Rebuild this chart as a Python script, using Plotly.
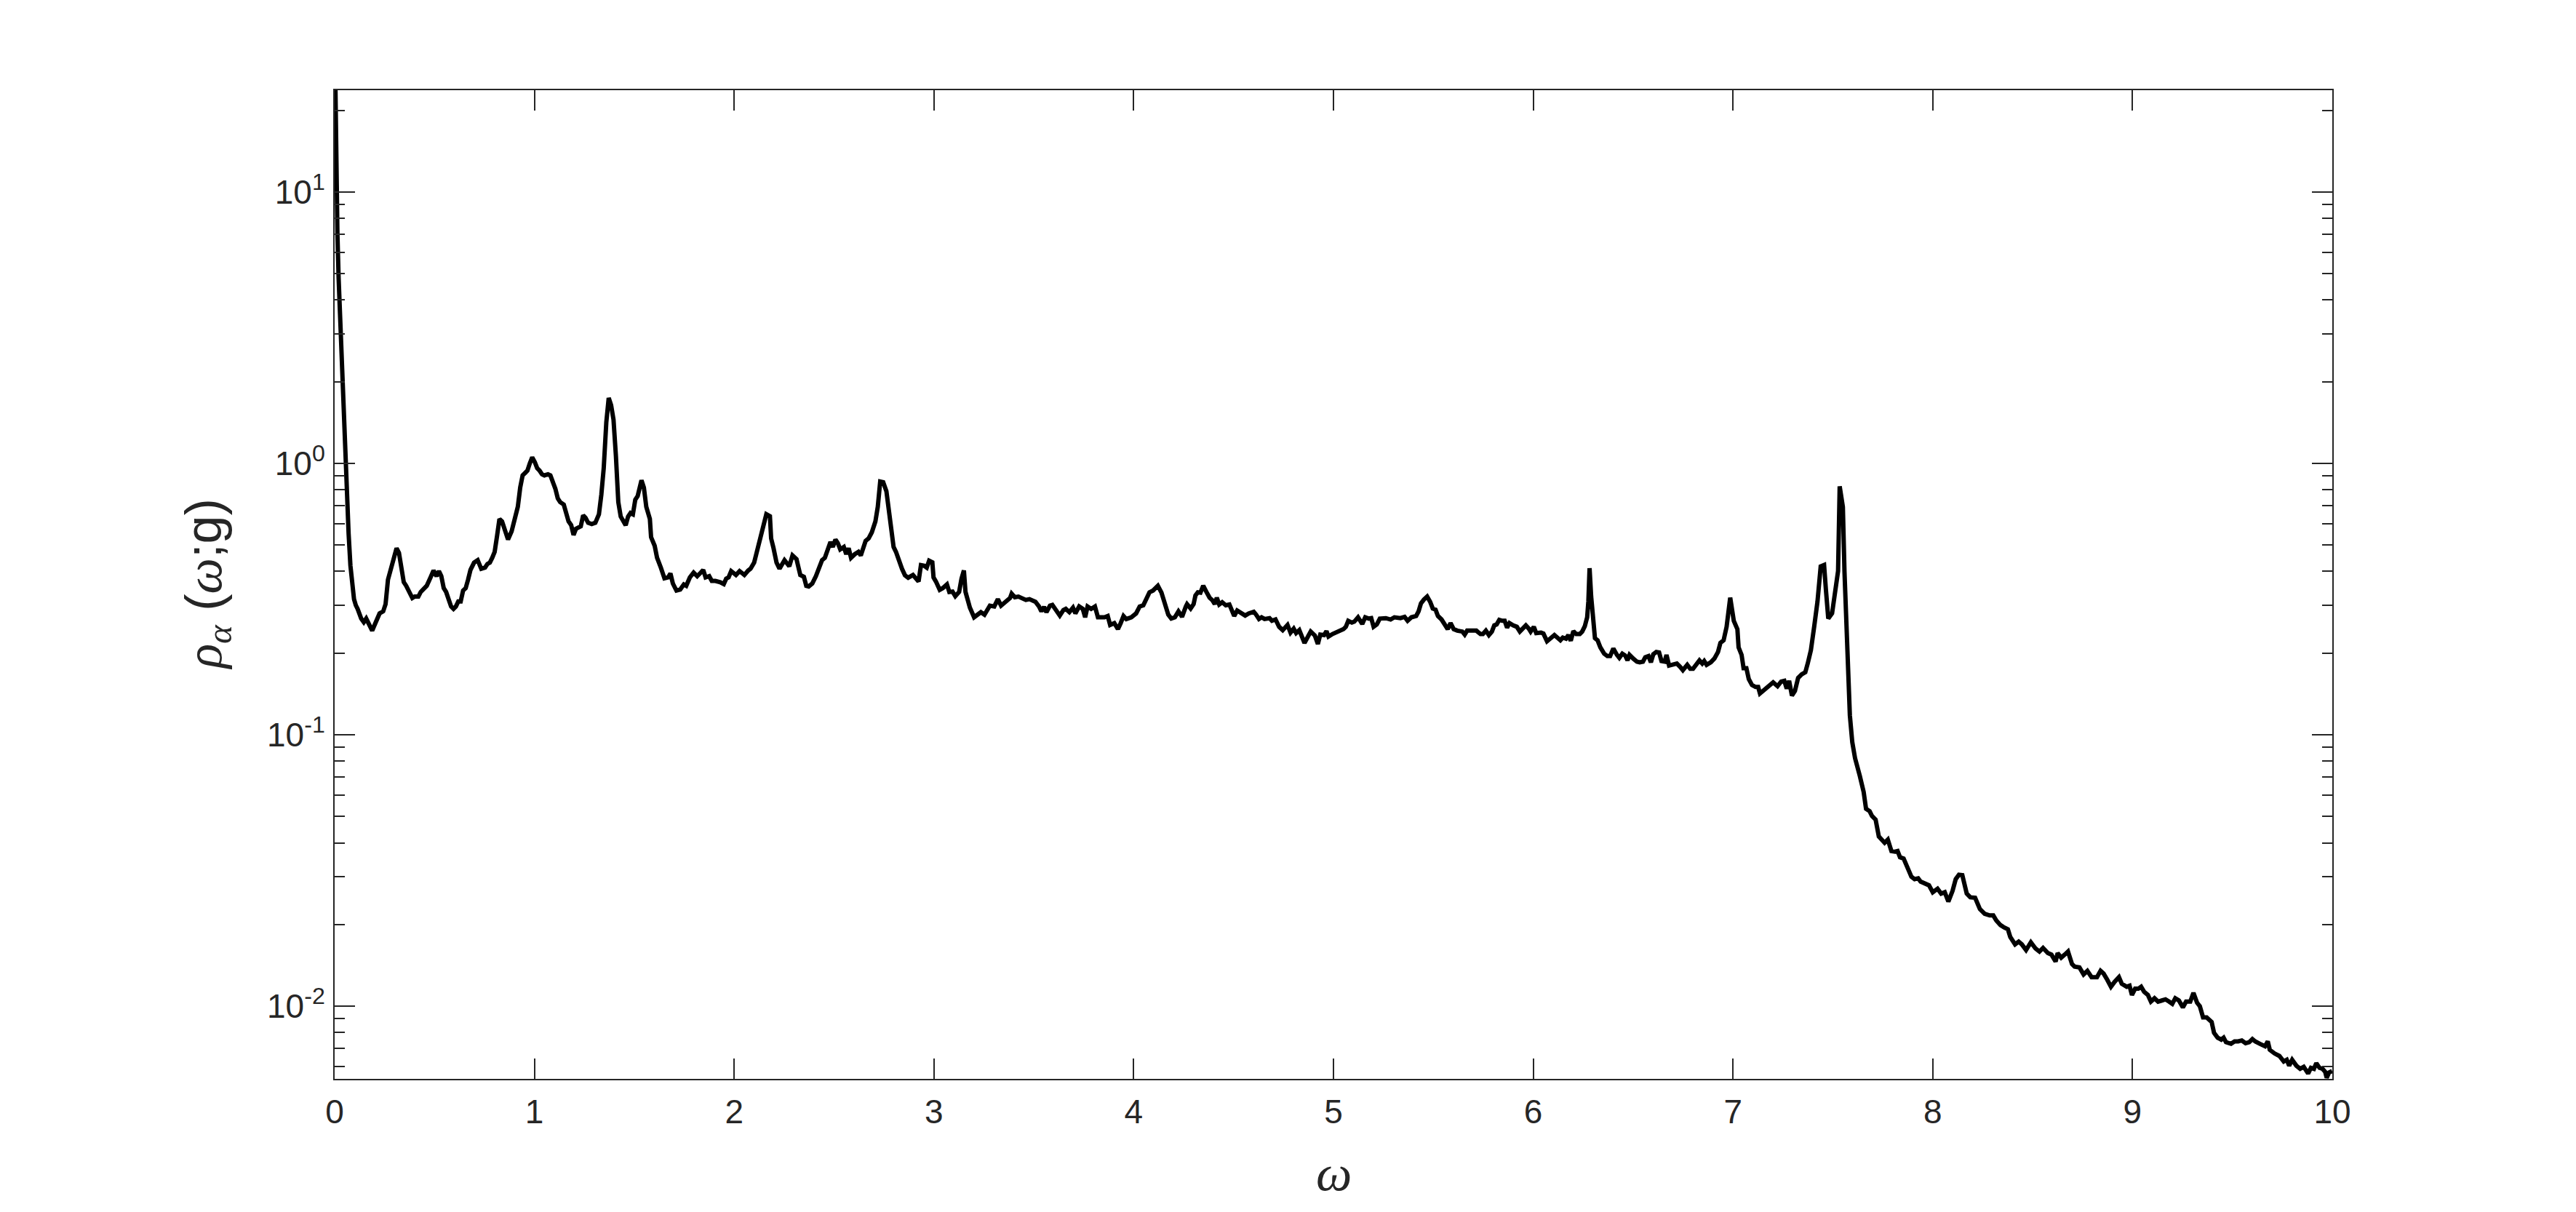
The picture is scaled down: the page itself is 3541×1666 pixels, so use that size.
import math
import plotly.graph_objects as go

# ---------------- data ----------------
omega_0 = [0.000, 0.004, 0.008, 0.014, 0.020, 0.030, 0.038, 0.044, 0.049, 0.055,
           0.061, 0.070, 0.079, 0.088, 0.097, 0.106, 0.115, 0.133, 0.146, 0.158,
           0.170, 0.188]
rho_0 = [40.0, 22.0, 12.0, 7.0, 4.8, 3.0, 2.4, 1.9, 1.42, 1.0,
         0.77, 0.55, 0.42, 0.36, 0.316, 0.30, 0.291, 0.268, 0.260, 0.268,
         0.258, 0.242]

omega_1 = [0.206, 0.225, 0.243, 0.255, 0.267, 0.285, 0.297, 0.310, 0.322, 0.334,
           0.346, 0.358, 0.376, 0.389, 0.401, 0.419, 0.431, 0.449, 0.461, 0.480,
           0.495, 0.510, 0.522, 0.534, 0.546, 0.558, 0.571, 0.583, 0.595, 0.607,
           0.619, 0.631, 0.643, 0.656, 0.668, 0.680, 0.698, 0.716, 0.734, 0.753,
           0.765, 0.777, 0.789, 0.801, 0.813, 0.825, 0.838, 0.850, 0.868, 0.886,
           0.904, 0.917, 0.929, 0.941, 0.953, 0.965, 0.977, 0.989, 1.002, 1.014,
           1.026, 1.038, 1.050, 1.068, 1.080, 1.093, 1.105, 1.117, 1.129, 1.147,
           1.159, 1.171, 1.184, 1.196, 1.208, 1.220, 1.232, 1.244, 1.256, 1.269,
           1.287, 1.305, 1.323, 1.335, 1.347, 1.360, 1.372, 1.384, 1.396, 1.408,
           1.420, 1.432, 1.445, 1.457, 1.469, 1.481, 1.493, 1.505, 1.517, 1.536,
           1.548, 1.560, 1.578, 1.584, 1.602, 1.614, 1.633, 1.651, 1.669, 1.681,
           1.693, 1.711, 1.730, 1.748, 1.760, 1.778, 1.797, 1.815, 1.833, 1.845,
           1.857, 1.875, 1.888, 1.906, 1.930]
rho_1 = [0.260, 0.280, 0.285, 0.303, 0.373, 0.422, 0.458, 0.487, 0.468, 0.413,
         0.365, 0.354, 0.330, 0.319, 0.323, 0.323, 0.336, 0.347, 0.354, 0.380,
         0.403, 0.384, 0.401, 0.384, 0.347, 0.336, 0.319, 0.297, 0.291, 0.297,
         0.310, 0.310, 0.340, 0.347, 0.373, 0.405, 0.431, 0.440, 0.409, 0.413,
         0.426, 0.431, 0.449, 0.472, 0.540, 0.624, 0.611, 0.580, 0.524, 0.562,
         0.624, 0.692, 0.815, 0.903, 0.921, 0.940, 1.000, 1.053, 1.011, 0.960,
         0.940, 0.912, 0.903, 0.912, 0.903, 0.857, 0.806, 0.743, 0.720, 0.705,
         0.663, 0.611, 0.592, 0.545, 0.574, 0.580, 0.586, 0.643, 0.630, 0.604,
         0.598, 0.604, 0.649, 0.766, 0.960, 1.420, 1.742, 1.637, 1.449, 1.064,
         0.720, 0.637, 0.617, 0.592, 0.637, 0.656, 0.649, 0.735, 0.758, 0.866,
         0.815, 0.692, 0.624, 0.535, 0.497, 0.449, 0.413, 0.377, 0.380, 0.393,
         0.361, 0.340, 0.343, 0.358, 0.354, 0.380, 0.396, 0.384, 0.396, 0.405,
         0.380, 0.384, 0.369, 0.369, 0.365]

omega_2 = [1.948, 1.960, 1.972, 1.985, 2.009, 2.027, 2.051, 2.070, 2.082, 2.100,
           2.112, 2.130, 2.142, 2.161, 2.179, 2.185, 2.197, 2.212, 2.227, 2.252,
           2.276, 2.292, 2.312, 2.331, 2.349, 2.361, 2.373, 2.391, 2.409, 2.428,
           2.440, 2.454, 2.470, 2.482, 2.494, 2.507, 2.519, 2.531, 2.549, 2.561,
           2.573, 2.585, 2.604, 2.622, 2.634, 2.646, 2.658, 2.673, 2.689, 2.707,
           2.719, 2.731, 2.746, 2.762, 2.774, 2.786, 2.798, 2.810, 2.826, 2.840,
           2.855, 2.871, 2.895, 2.907, 2.923, 2.935, 2.950, 2.964, 2.976, 2.992,
           2.998, 3.010, 3.029, 3.044, 3.065, 3.077, 3.093, 3.107, 3.126, 3.138,
           3.150, 3.158, 3.168, 3.180, 3.201, 3.217, 3.235, 3.253, 3.265, 3.280,
           3.302, 3.320, 3.336, 3.350, 3.368, 3.381, 3.389, 3.405, 3.423, 3.441,
           3.460, 3.478, 3.496, 3.508, 3.526, 3.538, 3.551, 3.563, 3.581, 3.593,
           3.611, 3.630, 3.648, 3.660, 3.678, 3.696, 3.708, 3.727, 3.745, 3.757,
           3.769, 3.787, 3.806, 3.821]
rho_2 = [0.359, 0.376, 0.380, 0.401, 0.388, 0.401, 0.388, 0.403, 0.409, 0.431,
         0.468, 0.529, 0.592, 0.650, 0.639, 0.529, 0.487, 0.431, 0.409, 0.440,
         0.418, 0.458, 0.444, 0.388, 0.382, 0.354, 0.352, 0.361, 0.384, 0.413,
         0.440, 0.449, 0.482, 0.513, 0.492, 0.524, 0.508, 0.482, 0.492, 0.463,
         0.487, 0.449, 0.463, 0.472, 0.458, 0.487, 0.518, 0.529, 0.557, 0.611,
         0.692, 0.857, 0.852, 0.790, 0.678, 0.545, 0.492, 0.472, 0.431, 0.409,
         0.387, 0.379, 0.388, 0.380, 0.367, 0.422, 0.420, 0.413, 0.438, 0.432,
         0.380, 0.367, 0.342, 0.347, 0.358, 0.336, 0.337, 0.324, 0.336, 0.376,
         0.403, 0.336, 0.310, 0.294, 0.271, 0.277, 0.283, 0.277, 0.288, 0.299,
         0.297, 0.316, 0.299, 0.305, 0.314, 0.319, 0.331, 0.321, 0.323, 0.317,
         0.314, 0.316, 0.310, 0.309, 0.297, 0.285, 0.296, 0.283, 0.299, 0.301,
         0.288, 0.275, 0.288, 0.291, 0.283, 0.294, 0.280, 0.297, 0.291, 0.271,
         0.297, 0.291, 0.297, 0.271]

omega_3 = [3.836, 3.854, 3.870, 3.882, 3.903, 3.921, 3.935, 3.949, 3.963, 3.988,
           4.012, 4.030, 4.048, 4.060, 4.079, 4.097, 4.121, 4.139, 4.158, 4.173,
           4.188, 4.206, 4.224, 4.242, 4.261, 4.267, 4.285, 4.300, 4.309, 4.321,
           4.334, 4.348, 4.364, 4.380, 4.394, 4.406, 4.416, 4.428, 4.443, 4.461,
           4.479, 4.503, 4.518, 4.540, 4.558, 4.576, 4.601, 4.613, 4.627, 4.640,
           4.655, 4.680, 4.692, 4.710, 4.728, 4.746, 4.770, 4.785, 4.801, 4.813,
           4.829, 4.855, 4.874, 4.886, 4.907, 4.922, 4.934, 4.953, 4.965, 4.975,
           4.995, 5.013, 5.032, 5.050, 5.062, 5.074, 5.092, 5.104, 5.123, 5.144,
           5.159, 5.177, 5.189, 5.201, 5.217, 5.232, 5.262, 5.286, 5.305, 5.335,
           5.356, 5.371, 5.390, 5.414, 5.426, 5.438, 5.453, 5.469, 5.484, 5.497,
           5.511, 5.523, 5.541, 5.560, 5.572, 5.586, 5.602, 5.620, 5.645, 5.657,
           5.669, 5.693, 5.715]
rho_3 = [0.271, 0.271, 0.274, 0.254, 0.258, 0.245, 0.258, 0.274, 0.267, 0.271,
         0.280, 0.297, 0.300, 0.313, 0.335, 0.340, 0.354, 0.334, 0.303, 0.277,
         0.268, 0.271, 0.285, 0.272, 0.297, 0.303, 0.292, 0.303, 0.326, 0.335,
         0.334, 0.354, 0.336, 0.320, 0.313, 0.303, 0.320, 0.302, 0.308, 0.300,
         0.302, 0.274, 0.287, 0.280, 0.275, 0.280, 0.284, 0.277, 0.267, 0.271,
         0.267, 0.269, 0.263, 0.266, 0.250, 0.243, 0.254, 0.238, 0.246, 0.237,
         0.243, 0.218, 0.230, 0.240, 0.232, 0.216, 0.234, 0.233, 0.241, 0.230,
         0.235, 0.238, 0.240, 0.245, 0.250, 0.263, 0.259, 0.261, 0.271, 0.256,
         0.271, 0.268, 0.269, 0.250, 0.255, 0.268, 0.269, 0.266, 0.271, 0.269,
         0.272, 0.263, 0.271, 0.274, 0.285, 0.305, 0.315, 0.323, 0.309, 0.292,
         0.289, 0.274, 0.266, 0.255, 0.245, 0.258, 0.245, 0.242, 0.240, 0.234,
         0.242, 0.242, 0.242]

omega_4 = [5.736, 5.748, 5.763, 5.778, 5.793, 5.805, 5.817, 5.830, 5.845, 5.857,
           5.869, 5.881, 5.899, 5.918, 5.933, 5.948, 5.963, 5.978, 5.987, 6.003,
           6.015, 6.039, 6.051, 6.069, 6.088, 6.106, 6.124, 6.136, 6.148, 6.164,
           6.176, 6.188, 6.201, 6.215, 6.233, 6.245, 6.258, 6.270, 6.276, 6.282,
           6.290, 6.300, 6.309, 6.322, 6.336, 6.355, 6.371, 6.385, 6.401, 6.419,
           6.431, 6.446, 6.460, 6.472, 6.482, 6.500, 6.519, 6.533, 6.549, 6.561,
           6.577, 6.589, 6.601, 6.616, 6.630, 6.642, 6.658, 6.667, 6.680, 6.694,
           6.719, 6.735, 6.749, 6.771, 6.786, 6.800, 6.816, 6.832, 6.846, 6.856,
           6.868, 6.889, 6.907, 6.925, 6.937, 6.953, 6.968, 6.986, 7.004, 7.022,
           7.028, 7.043, 7.053, 7.067, 7.079, 7.095, 7.113, 7.126, 7.135, 7.150,
           7.168, 7.186, 7.201, 7.223, 7.241, 7.257, 7.269, 7.281, 7.295, 7.310,
           7.326, 7.344, 7.362, 7.374, 7.390, 7.407, 7.423, 7.439, 7.456, 7.465,
           7.477, 7.496, 7.514, 7.526, 7.534, 7.550, 7.558, 7.571, 7.585, 7.597,
           7.611]
rho_4 = [0.235, 0.235, 0.242, 0.233, 0.240, 0.253, 0.255, 0.265, 0.263, 0.263,
         0.248, 0.258, 0.253, 0.250, 0.240, 0.247, 0.253, 0.246, 0.240, 0.250,
         0.237, 0.238, 0.236, 0.221, 0.227, 0.233, 0.227, 0.223, 0.228, 0.226,
         0.233, 0.222, 0.241, 0.235, 0.235, 0.240, 0.251, 0.271, 0.310, 0.411,
         0.323, 0.274, 0.227, 0.223, 0.210, 0.199, 0.195, 0.195, 0.208, 0.197,
         0.192, 0.199, 0.196, 0.188, 0.197, 0.191, 0.186, 0.185, 0.186, 0.193,
         0.195, 0.185, 0.198, 0.202, 0.201, 0.187, 0.186, 0.197, 0.180, 0.181,
         0.183, 0.178, 0.173, 0.181, 0.175, 0.175, 0.181, 0.188, 0.183, 0.187,
         0.181, 0.185, 0.191, 0.202, 0.218, 0.223, 0.250, 0.320, 0.263, 0.245,
         0.210, 0.197, 0.176, 0.176, 0.1605, 0.1525, 0.150, 0.150, 0.142, 0.145,
         0.148, 0.1525, 0.156, 0.151, 0.157, 0.158, 0.148, 0.158, 0.1395, 0.145,
         0.162, 0.167, 0.170, 0.183, 0.205, 0.252, 0.310, 0.417, 0.422, 0.343,
         0.268, 0.280, 0.337, 0.401, 0.823, 0.691, 0.400, 0.223, 0.118, 0.094,
         0.082]

omega_5 = [7.635, 7.654, 7.666, 7.684, 7.696, 7.714, 7.730, 7.745, 7.759, 7.775,
           7.793, 7.811, 7.824, 7.836, 7.854, 7.872, 7.893, 7.909, 7.927, 7.939,
           7.957, 7.981, 8.000, 8.024, 8.042, 8.060, 8.078, 8.099, 8.115, 8.131,
           8.148, 8.170, 8.188, 8.212, 8.236, 8.260, 8.285, 8.303, 8.318, 8.339,
           8.358, 8.376, 8.388, 8.412, 8.430, 8.446, 8.467, 8.491, 8.515, 8.534,
           8.552, 8.576, 8.594, 8.615, 8.625, 8.643, 8.661, 8.677, 8.697, 8.710,
           8.734, 8.755, 8.774, 8.795, 8.810, 8.822, 8.840, 8.855, 8.874, 8.892,
           8.910, 8.932, 8.946, 8.971, 8.985, 8.997, 9.013, 9.029, 9.043, 9.058,
           9.077, 9.092, 9.110, 9.128, 9.147, 9.165, 9.183, 9.199, 9.214, 9.232,
           9.252, 9.268, 9.289, 9.305, 9.323, 9.337, 9.353, 9.371]
rho_5 = [0.0705, 0.0616, 0.0534, 0.0523, 0.0502, 0.0487, 0.0422, 0.0413, 0.0400, 0.0411,
         0.0373, 0.0371, 0.0373, 0.0354, 0.0350, 0.0326, 0.0300, 0.0294, 0.0296, 0.0288,
         0.0285, 0.0279, 0.0263, 0.0271, 0.0260, 0.0263, 0.0243, 0.0266, 0.0294, 0.0305,
         0.0304, 0.0260, 0.0252, 0.0251, 0.0228, 0.0219, 0.0216, 0.0216, 0.0207, 0.0199,
         0.0195, 0.0192, 0.0180, 0.0169, 0.0173, 0.0169, 0.0161, 0.0172, 0.0163, 0.0159,
         0.0164, 0.0157, 0.0155, 0.0146, 0.0157, 0.0151, 0.0155, 0.0159, 0.0143, 0.0140,
         0.0139, 0.0131, 0.0135, 0.0128, 0.0128, 0.0128, 0.0135, 0.0132, 0.0125, 0.0118,
         0.0123, 0.0128, 0.0121, 0.0118, 0.0119, 0.0110, 0.0116, 0.0116, 0.0118, 0.0113,
         0.0110, 0.0104, 0.0107, 0.0104, 0.0105, 0.0106, 0.0104, 0.0102, 0.0107, 0.0105,
         0.0099, 0.0104, 0.0104, 0.0112, 0.0103, 0.0100, 0.0091, 0.0091]

omega_6 = [9.396, 9.408, 9.426, 9.444, 9.456, 9.468, 9.493, 9.511, 9.529, 9.547,
           9.566, 9.584, 9.600, 9.614, 9.638, 9.663, 9.677, 9.687, 9.711, 9.735,
           9.757, 9.772, 9.784, 9.799, 9.820, 9.839, 9.857, 9.879, 9.893, 9.908,
           9.920, 9.936, 9.951, 9.964, 9.972, 9.984, 9.999]
rho_6 = [0.00875, 0.00798, 0.00766, 0.00753, 0.00766, 0.00737, 0.00727, 0.00742, 0.00742, 0.00748,
         0.00731, 0.00737, 0.00757, 0.00742, 0.00727, 0.00712, 0.00742, 0.00691, 0.00670, 0.00656,
         0.00626, 0.00635, 0.00604, 0.00635, 0.00604, 0.00588, 0.00598, 0.00565, 0.00593, 0.00588,
         0.00617, 0.00593, 0.00588, 0.00574, 0.00545, 0.00570, 0.00577]

x_ticks = [0, 1, 2, 3, 4, 5, 6, 7, 8, 9, 10]
y_ticks = [0.01, 0.1, 1, 10]
y_tick_text = ["10<sup>-2</sup>", "10<sup>-1</sup>", "10<sup>0</sup>", "10<sup>1</sup>"]
x_range = [0, 10]
y_range = [0.0054, 23.7]

# ---------------- figure ----------------
omega = omega_0 + omega_1 + omega_2 + omega_3 + omega_4 + omega_5 + omega_6
rho = rho_0 + rho_1 + rho_2 + rho_3 + rho_4 + rho_5 + rho_6

AX = "#262626"
FONT = "Liberation Sans"

fig = go.Figure()
fig.add_trace(go.Scatter(x=omega, y=rho, mode="lines",
                         line=dict(color="black", width=6),
                         showlegend=False, hoverinfo="skip"))

fig.update_layout(
    width=3533, height=1658,
    margin=dict(l=452, r=335, t=116, b=183, autoexpand=False),
    paper_bgcolor="white", plot_bgcolor="white",
    font=dict(family=FONT, color=AX, size=46),
    xaxis=dict(range=x_range, tickmode="array", tickvals=x_ticks,
               ticktext=[str(v) for v in x_ticks],
               ticks="inside", ticklen=28, tickwidth=2, tickcolor=AX,
               showline=True, linecolor=AX, linewidth=2, mirror="allticks",
               showgrid=False, zeroline=False,
               tickfont=dict(family=FONT, size=46, color=AX),
               ticklabelstandoff=4),
    yaxis=dict(type="log", range=[math.log10(y_range[0]), math.log10(y_range[1])],
               tickmode="array", tickvals=y_ticks, ticktext=y_tick_text,
               ticks="inside", ticklen=28, tickwidth=2, tickcolor=AX,
               showline=True, linecolor=AX, linewidth=2, mirror="allticks",
               showgrid=False, zeroline=False,
               tickfont=dict(family=FONT, size=46, color=AX),
               ticklabelstandoff=2,
               minor=dict(dtick="D1", ticks="inside", ticklen=14, tickwidth=2,
                          tickcolor=AX, showgrid=False)),
)

GREEK = "font-family:'Liberation Serif'"
fig.add_annotation(
    text=(f"<span style=\"{GREEK}\"><i>ρ</i></span>"
          f"<sub><span style=\"{GREEK}\"><i>α</i></span></sub>"
          f" (<span style=\"{GREEK}\"><i>ω</i></span>;g)"),
    xref="paper", yref="paper", x=0, y=0.5, xshift=-175,
    xanchor="center", yanchor="middle", textangle=-90, showarrow=False,
    font=dict(family=FONT, size=70, color=AX))
fig.add_annotation(
    text=f"<span style=\"{GREEK}\"><i>ω</i></span>",
    xref="paper", yref="paper", x=0.5, y=0, yshift=-129,
    xanchor="center", yanchor="middle", showarrow=False,
    font=dict(family=FONT, size=70, color=AX))

fig.write_html("out.html")
